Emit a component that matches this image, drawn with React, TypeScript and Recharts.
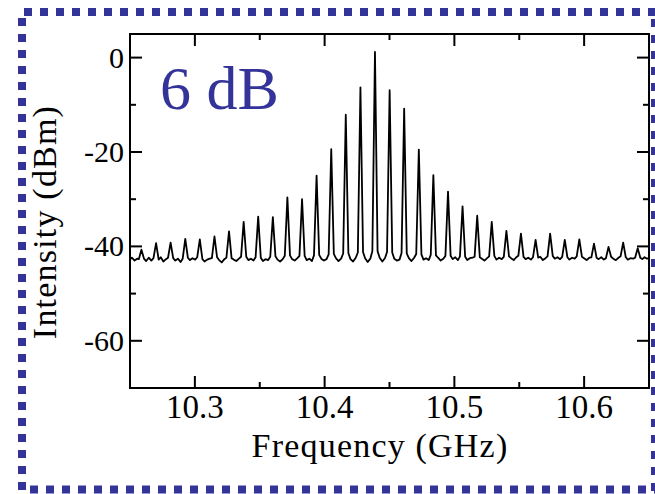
import { LineChart, Line, XAxis, YAxis, ReferenceArea } from "recharts";

// comb line centres (GHz) and their levels (dBm)
const peakFreq = [
  10.2588, 10.2701, 10.2813, 10.2926, 10.3038, 10.3151, 10.3263, 10.3376, 10.3488,
  10.3601, 10.3713, 10.3826, 10.3938, 10.4051, 10.4163, 10.4276, 10.4388, 10.4501,
  10.4613, 10.4726, 10.4838, 10.4951, 10.5063, 10.5176, 10.5288, 10.5401, 10.5513,
  10.5626, 10.5738, 10.5851, 10.5963, 10.6076, 10.6188, 10.6301, 10.6413,
];
const peakDbm = [
  -40.7, -39.3, -39.2, -38.4, -38.5, -37.9, -36.8, -34.8, -33.7,
  -33.8, -29.6, -30.0, -25.0, -19.4, -12.1, -6.3, 1.2, -6.9,
  -10.8, -19.5, -24.9, -28.4, -31.5, -33.5, -34.8, -36.7, -37.3,
  -38.6, -37.3, -38.6, -38.5, -39.4, -40.1, -39.2, -40.4,
];
// noise floor between neighbouring lines (dBm)
const gapDbm = [
  [-42.6, -43.1, -42.4, -43.0, -42.5],
  [-42.8, -42.3, -43.2, -42.7, -42.4],
  [-42.5, -43.0, -42.6, -43.3, -42.6],
  [-42.4, -42.9, -42.5, -42.8, -42.3],
  [-42.7, -43.2, -42.8, -42.6, -42.5],
  [-42.3, -42.9, -43.4, -42.7, -42.4],
  [-42.5, -42.8, -43.1, -42.6, -42.2],
  [-42.2, -42.9, -42.6, -43.0, -42.3],
  [-42.4, -43.1, -42.7, -42.9, -42.2],
  [-42.1, -42.8, -43.2, -42.7, -42.0],
  [-41.9, -42.7, -43.0, -42.5, -42.0],
  [-42.0, -42.9, -42.6, -43.1, -41.9],
  [-41.8, -42.6, -43.0, -42.7, -41.7],
  [-41.6, -42.5, -43.1, -42.6, -41.5],
  [-41.4, -42.7, -43.2, -42.4, -41.3],
  [-41.2, -42.5, -43.3, -42.6, -41.0],
  [-41.0, -42.4, -43.2, -42.5, -41.2],
  [-41.3, -42.6, -43.0, -42.8, -41.4],
  [-41.5, -42.5, -43.1, -42.4, -41.6],
  [-41.7, -42.8, -42.5, -42.9, -41.8],
  [-41.9, -42.4, -43.0, -42.6, -42.0],
  [-42.0, -42.7, -42.3, -42.9, -42.1],
  [-42.2, -42.9, -42.5, -42.4, -42.2],
  [-42.3, -42.6, -43.0, -42.5, -42.1],
  [-42.0, -42.8, -42.4, -42.7, -42.2],
  [-42.1, -42.5, -42.9, -42.3, -42.0],
  [-42.2, -42.7, -42.4, -42.8, -42.3],
  [-42.4, -42.2, -42.9, -42.5, -42.1],
  [-42.0, -42.6, -42.3, -42.7, -42.2],
  [-42.3, -42.8, -42.4, -42.6, -42.1],
  [-42.2, -42.5, -42.9, -42.4, -42.3],
  [-42.4, -42.7, -42.3, -42.8, -42.5],
  [-42.2, -42.6, -42.9, -42.4, -42.1],
  [-42.3, -42.8, -42.5, -42.6, -42.4],
];
const leftEdgeFreq = [10.25, 10.2515, 10.2535, 10.2555, 10.2568];
const leftEdgeDbm = [-42.8, -42.4, -43.0, -42.6, -42.7];
const rightEdgeFreq = [10.6433, 10.6448, 10.6466, 10.6485, 10.65];
const rightEdgeDbm = [-42.4, -42.7, -42.3, -42.6, -42.5];

const xTicks = [10.3, 10.35, 10.4, 10.45, 10.5, 10.55, 10.6];
const yTicks = [-60, -50, -40, -30, -20, -10, 0];

const PLOT_TOP = 34;
const PLOT_BOTTOM = 388;
const PLOT_LEFT = 130;
const PLOT_RIGHT = 649;
const SPIKE = 0.002;
const FONT = "'Liberation Serif', 'Times New Roman', serif";
const BLUE = "#33339a";

const trace: { f: number; v: number }[] = [];
leftEdgeFreq.forEach((f, i) => trace.push({ f, v: leftEdgeDbm[i] }));
peakFreq.forEach((f, i) => {
  trace.push({ f, v: peakDbm[i] });
  const gap = gapDbm[i];
  if (!gap) return;
  const w = peakFreq[i + 1] - f;
  const at = [SPIKE, w * 0.32, w * 0.5, w * 0.68, w - SPIKE];
  gap.forEach((v, k) => trace.push({ f: f + at[k], v }));
});
rightEdgeFreq.forEach((f, i) => trace.push({ f, v: rightEdgeDbm[i] }));

function XTick(props: any) {
  const { x, payload } = props;
  const major = Math.round(payload.value * 100) % 10 === 0;
  const len = major ? 12 : 6;
  return (
    <g>
      <line x1={x} x2={x} y1={PLOT_BOTTOM} y2={PLOT_BOTTOM - len} stroke="#000" strokeWidth={2} />
      <line x1={x} x2={x} y1={PLOT_TOP} y2={PLOT_TOP + len} stroke="#000" strokeWidth={2} />
      {major && (
        <text x={x} y={PLOT_BOTTOM + 30} textAnchor="middle" fontFamily={FONT} fontSize={33} fill="#000">
          {payload.value.toFixed(1)}
        </text>
      )}
    </g>
  );
}

function YTick(props: any) {
  const { y, payload } = props;
  const major = payload.value % 20 === 0;
  const len = major ? 12 : 6;
  return (
    <g>
      <line x1={PLOT_LEFT} x2={PLOT_LEFT + len} y1={y} y2={y} stroke="#000" strokeWidth={2} />
      <line x1={PLOT_RIGHT} x2={PLOT_RIGHT - len} y1={y} y2={y} stroke="#000" strokeWidth={2} />
      {major && (
        <text x={PLOT_LEFT - 6} y={y + 10} textAnchor="end" fontFamily={FONT} fontSize={30} fill="#000">
          {payload.value}
        </text>
      )}
    </g>
  );
}

export default function App() {
  return (
    <div style={{ position: "absolute", left: 0, top: 0, width: 655, height: 494, background: "#fff" }}>
      <svg width={655} height={494} style={{ position: "absolute", left: 0, top: 0 }}>
        <g stroke={BLUE} strokeWidth={8} strokeDasharray="8 8">
          <line x1={24} x2={655} y1={12} y2={12} />
          <line x1={22} x2={22} y1={18} y2={494} />
          <line x1={30} x2={655} y1={489.5} y2={489.5} />
          <line x1={655} x2={655} y1={19} y2={494} />
        </g>
      </svg>
      <LineChart
        width={655}
        height={494}
        data={trace}
        margin={{ top: PLOT_TOP, right: 6, bottom: 0, left: 30 }}
      >
        <XAxis
          dataKey="f"
          type="number"
          domain={[10.25, 10.65]}
          allowDataOverflow
          ticks={xTicks}
          interval={0}
          height={106}
          tickLine={false}
          tick={XTick}
          axisLine={{ stroke: "#000", strokeWidth: 2 }}
          label={{
            content: () => (
              <text x={380} y={457} textAnchor="middle" fontFamily={FONT} fontSize={34} letterSpacing={1.2} fill="#000">
                Frequency (GHz)
              </text>
            ),
          }}
        />
        <YAxis
          type="number"
          domain={[-70, 5]}
          allowDataOverflow
          ticks={yTicks}
          interval={0}
          width={100}
          tickLine={false}
          tick={YTick}
          axisLine={{ stroke: "#000", strokeWidth: 2 }}
          label={{
            content: () => (
              <text
                x={56}
                y={222}
                transform="rotate(-90 56 222)"
                textAnchor="middle"
                fontFamily={FONT}
                fontSize={34}
                letterSpacing={1.2}
                fill="#000"
              >
                Intensity (dBm)
              </text>
            ),
          }}
        />
        <ReferenceArea x1={10.25} x2={10.65} y1={-70} y2={5} fill="none" stroke="#000" strokeWidth={2} ifOverflow="visible" />
        <Line
          dataKey="v"
          stroke="#000"
          strokeWidth={1.8}
          strokeLinejoin="round"
          dot={false}
          activeDot={false}
          isAnimationActive={false}
        />
      </LineChart>
      <svg width={655} height={494} style={{ position: "absolute", left: 0, top: 0, pointerEvents: "none" }}>
        <text x={160} y={109} fontFamily={FONT} fontSize={62} fill={BLUE}>
          6 dB
        </text>
      </svg>
    </div>
  );
}
